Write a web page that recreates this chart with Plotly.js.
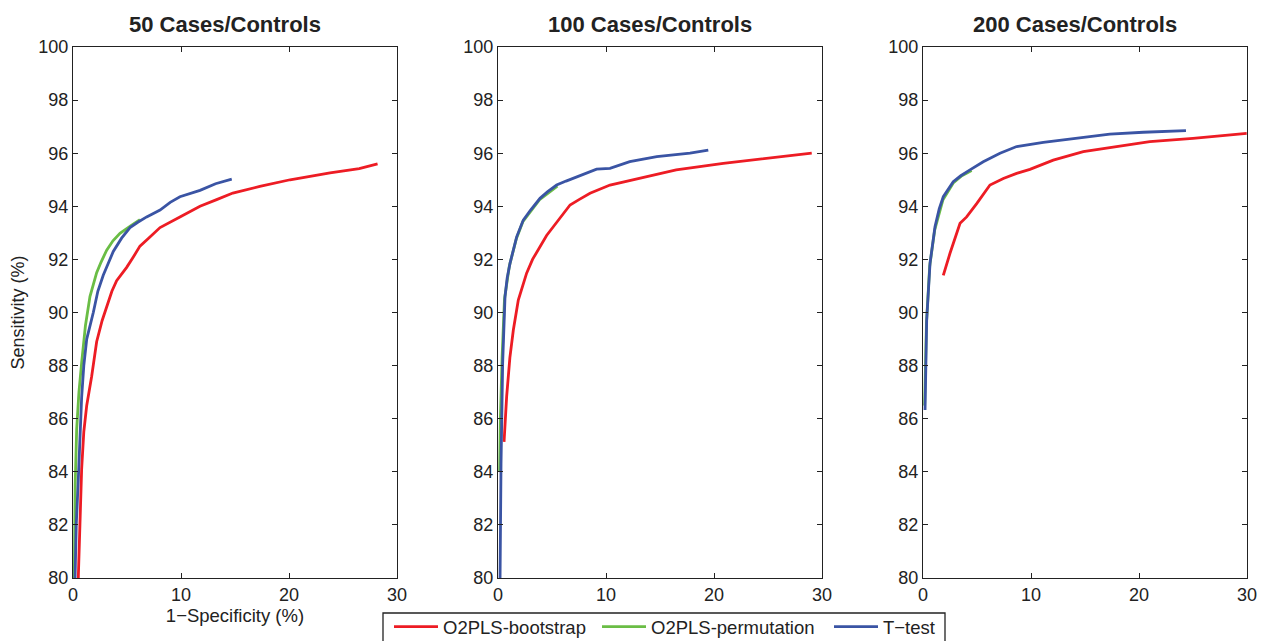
<!DOCTYPE html>
<html>
<head>
<meta charset="utf-8">
<script src="https://cdn.plot.ly/plotly-3.0.1.min.js"></script>
<style>html,body{margin:0;padding:0;background:#fff;}#chart{width:1262px;height:641px;}</style>
</head>
<body>
<div id="chart"></div>
<script>
// Panel titles and series names
const panelTitles = ["50 Cases/Controls", "100 Cases/Controls", "200 Cases/Controls"];
const seriesNames = ["O2PLS-bootstrap", "O2PLS-permutation", "T\u2212test"];
const seriesColors = ["#ed1c24", "#6abd45", "#3a54a4"];

// Panel 1 (50 cases/controls): x = 1-Specificity (%), y = Sensitivity (%)
const p1BootX = [0.49, 0.65, 0.8, 1.0, 1.27, 1.73, 2.19, 2.7, 3.12, 3.6, 4.04, 4.97, 5.6, 6.2, 7.0, 8.06, 9.9, 11.76, 13.3, 14.8, 17.3, 20.1, 23.8, 26.5, 28.2];
const p1BootY = [80.0, 82.3, 84.1, 85.5, 86.5, 87.6, 88.9, 89.7, 90.2, 90.8, 91.2, 91.7, 92.1, 92.5, 92.8, 93.2, 93.6, 94.0, 94.25, 94.5, 94.75, 95.0, 95.26, 95.42, 95.6];
const p1PermX = [0.12, 0.2, 0.34, 0.55, 0.8, 1.15, 1.57, 2.19, 2.6, 3.12, 3.7, 4.35, 5.3, 6.2];
const p1PermY = [80.0, 83.5, 85.6, 87.0, 88.1, 89.5, 90.6, 91.5, 91.9, 92.35, 92.7, 92.98, 93.25, 93.5];
const p1TtestX = [0.19, 0.3, 0.49, 0.8, 1.0, 1.27, 1.88, 2.3, 2.8, 3.73, 4.5, 5.28, 6.0, 6.82, 8.06, 9.0, 9.9, 11.76, 13.2, 14.7];
const p1TtestY = [80.0, 82.0, 83.7, 86.8, 88.0, 89.0, 90.0, 90.8, 91.4, 92.3, 92.8, 93.2, 93.4, 93.6, 93.86, 94.15, 94.36, 94.6, 94.85, 95.02];

// Panel 2 (100 cases/controls)
const p2BootX = [0.56, 0.8, 1.1, 1.42, 1.88, 2.65, 3.2, 3.89, 4.5, 5.12, 5.8, 6.67, 7.5, 8.52, 10.37, 13.15, 16.5, 20.86, 24.57, 29.05];
const p2BootY = [85.13, 86.83, 88.3, 89.34, 90.47, 91.48, 92.0, 92.48, 92.9, 93.23, 93.6, 94.05, 94.25, 94.49, 94.8, 95.05, 95.37, 95.62, 95.8, 96.0];
const p2PermX = [0.15, 0.22, 0.38, 0.6, 1.05, 1.7, 2.3, 3.85, 5.5];
const p2PermY = [84.0, 86.0, 88.3, 90.5, 91.75, 92.78, 93.42, 94.25, 94.76];
const p2TtestX = [0.19, 0.28, 0.43, 0.65, 0.85, 1.11, 1.73, 2.34, 3.0, 3.89, 4.6, 5.43, 6.3, 7.28, 9.13, 10.37, 12.2, 14.7, 17.78, 19.47];
const p2TtestY = [80.0, 84.3, 88.07, 90.6, 91.3, 91.85, 92.85, 93.48, 93.85, 94.3, 94.55, 94.8, 94.95, 95.11, 95.4, 95.43, 95.68, 95.87, 96.0, 96.12];

// Panel 3 (200 cases/controls)
const p3BootX = [1.88, 2.5, 3.43, 4.04, 4.97, 5.6, 6.2, 7.44, 8.67, 9.9, 12.06, 14.84, 17.93, 21.0, 25.0, 29.97];
const p3BootY = [91.4, 92.23, 93.36, 93.6, 94.1, 94.45, 94.8, 95.05, 95.24, 95.39, 95.74, 96.06, 96.25, 96.44, 96.56, 96.75];
const p3PermX = [0.15, 0.32, 0.62, 1.08, 1.85, 2.8, 3.6, 4.5];
const p3PermY = [86.5, 89.6, 91.75, 93.1, 94.25, 94.88, 95.15, 95.35];
const p3TtestX = [0.19, 0.34, 0.65, 1.11, 1.5, 1.88, 2.8, 3.5, 4.35, 5.58, 7.13, 8.67, 11.14, 14.2, 17.3, 20.4, 24.35];
const p3TtestY = [86.33, 89.7, 91.85, 93.23, 93.9, 94.36, 94.93, 95.15, 95.37, 95.68, 96.0, 96.25, 96.41, 96.56, 96.72, 96.79, 96.85];

const xTickVals = [0, 10, 20, 30];
const yTickVals = [80, 82, 84, 86, 88, 90, 92, 94, 96, 98, 100];

const panels = [
  [[p1BootX, p1BootY], [p1PermX, p1PermY], [p1TtestX, p1TtestY]],
  [[p2BootX, p2BootY], [p2PermX, p2PermY], [p2TtestX, p2TtestY]],
  [[p3BootX, p3BootY], [p3PermX, p3PermY], [p3TtestX, p3TtestY]]
];

const W = 1262, H = 641;
const panelLeft = [73, 498, 923];
const panelWidth = 324;
const plotTop = 47, plotBottom = 578;
const legendIds = ['legend', 'legend2', 'legend3'];
const legendLeft = [389, 597, 829];

const traces = [];
panels.forEach((series, pi) => {
  series.forEach((s, si) => {
    traces.push({
      x: s[0], y: s[1], type: 'scatter', mode: 'lines',
      name: seriesNames[si],
      legend: legendIds[si],
      showlegend: pi === 0,
      xaxis: pi === 0 ? 'x' : 'x' + (pi + 1),
      yaxis: pi === 0 ? 'y' : 'y' + (pi + 1),
      line: {color: seriesColors[si], width: 2.8}
    });
  });
});

const fontFam = '"Liberation Sans", Arial, Helvetica, sans-serif';
const layout = {
  width: W, height: H,
  margin: {l: 0, r: 0, t: 0, b: 0, autoexpand: false},
  paper_bgcolor: '#fff', plot_bgcolor: '#fff',
  font: {family: fontFam, size: 18, color: '#222'},
  showlegend: true,
  annotations: [],
  shapes: [{
    type: 'rect', xref: 'paper', yref: 'paper',
    x0: 383 / W, x1: 945 / W, y0: 1 - 613 / H, y1: 1 - 660 / H,
    line: {color: '#222', width: 1.3}, fillcolor: 'rgba(0,0,0,0)', layer: 'above'
  }]
};
legendIds.forEach((id, i) => {
  layout[id] = {
    orientation: 'h', x: legendLeft[i] / W, xanchor: 'left',
    y: 1 - 608 / H, yanchor: 'top',
    borderwidth: 0, bgcolor: 'rgba(0,0,0,0)',
    font: {family: fontFam, size: 18.5, color: '#222'},
    itemwidth: 44
  };
});

panels.forEach((_, pi) => {
  const xa = pi === 0 ? 'xaxis' : 'xaxis' + (pi + 1);
  const ya = pi === 0 ? 'yaxis' : 'yaxis' + (pi + 1);
  const xd = [panelLeft[pi] / W, (panelLeft[pi] + panelWidth) / W];
  const yd = [1 - plotBottom / H, 1 - plotTop / H];
  layout[xa] = {
    domain: xd, range: [0, 30], tickvals: xTickVals,
    anchor: pi === 0 ? 'y' : 'y' + (pi + 1),
    showgrid: false, zeroline: false, showline: true, linecolor: '#222', linewidth: 1.2,
    mirror: 'ticks', ticks: 'inside', ticklen: 5, tickcolor: '#222',
    tickfont: {family: fontFam, size: 18, color: '#222'},
    title: pi === 0 ? {text: '1\u2212Specificity (%)', font: {family: fontFam, size: 18.5, color: '#222'}, standoff: 1} : {text: ''}
  };
  layout[ya] = {
    domain: yd, range: [80, 100], tickvals: yTickVals,
    anchor: pi === 0 ? 'x' : 'x' + (pi + 1),
    showgrid: false, zeroline: false, showline: true, linecolor: '#222', linewidth: 1.2,
    mirror: 'ticks', ticks: 'inside', ticklen: 5, tickcolor: '#222',
    tickfont: {family: fontFam, size: 18, color: '#222'},
    title: pi === 0 ? {text: 'Sensitivity (%)', font: {family: fontFam, size: 18, color: '#222'}, standoff: 8} : {text: ''}
  };
  layout.annotations.push({
    text: '<b>' + panelTitles[pi] + '</b>',
    xref: 'paper', yref: 'paper',
    x: (panelLeft[pi] + panelWidth / 2 - 10) / W, y: 1 - 24 / H,
    xanchor: 'center', yanchor: 'middle', showarrow: false,
    font: {family: fontFam, size: 22, color: '#222'}
  });
});

Plotly.newPlot('chart', traces, layout, {displayModeBar: false, staticPlot: true});
</script>
</body>
</html>
